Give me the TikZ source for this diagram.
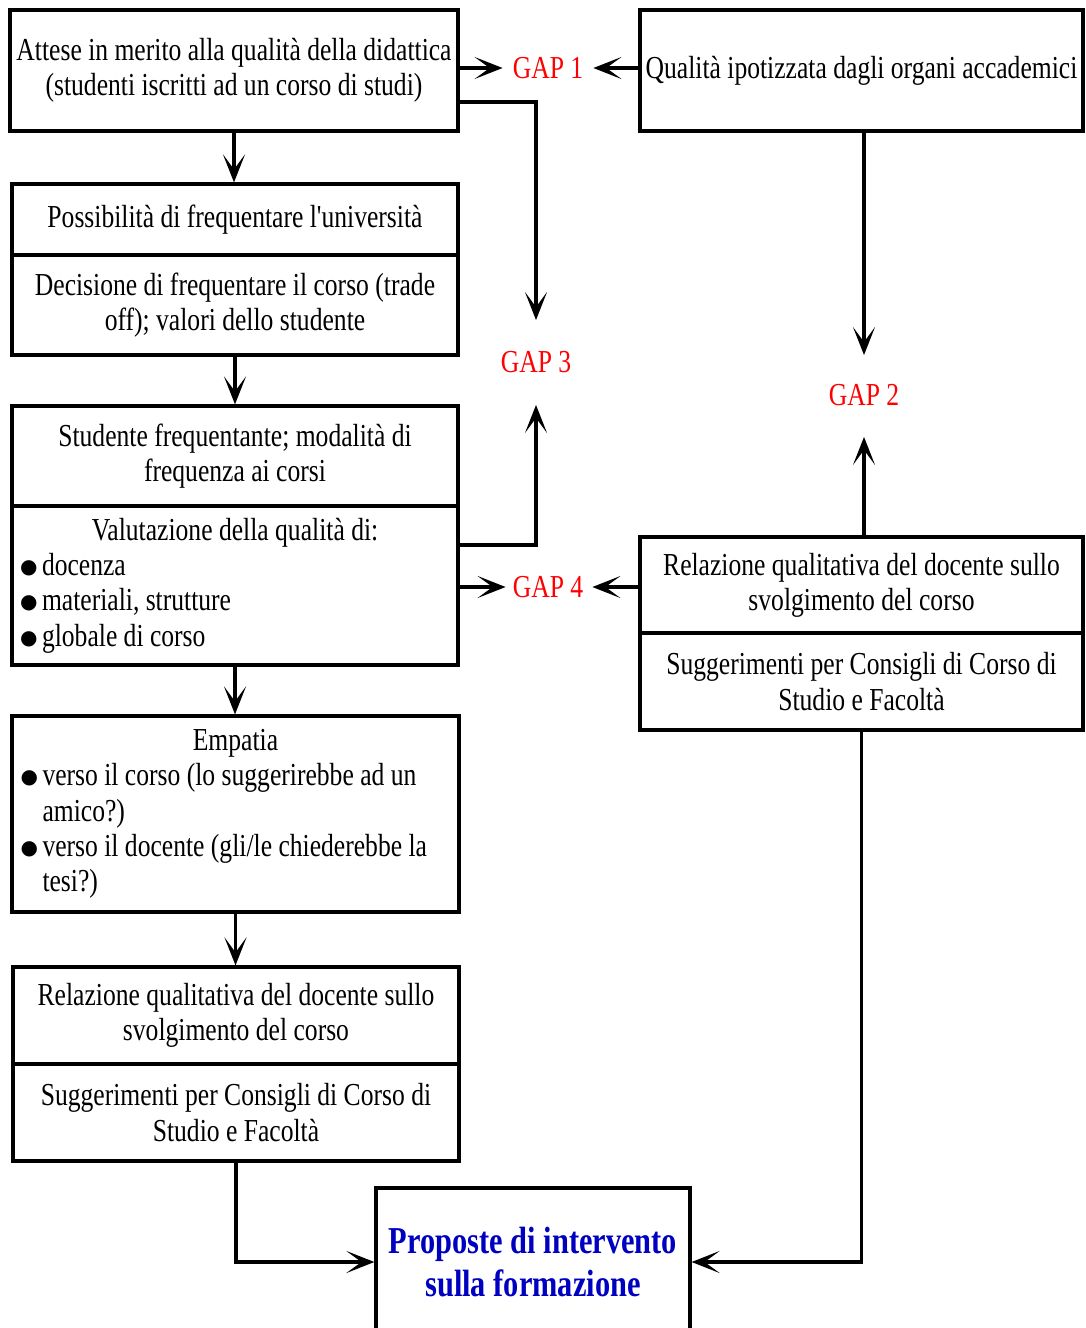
\documentclass[tikz,border=0pt]{standalone}
\usepackage{fontspec}
\setmainfont{Liberation Serif}[FakeStretch=0.8, Ligatures=TeXOff]
\newfontfamily\bulletfont{DejaVu Sans}
\usetikzlibrary{arrows.meta}
\definecolor{gapred}{RGB}{255,0,0}
\definecolor{propblue}{RGB}{0,0,192}
\newcommand{\bul}{\makebox[22pt][l]{\raisebox{2pt}{\bulletfont\fontsize{20}{20}\selectfont ●}}}
\newcommand{\bline}[1]{\makebox[430pt][l]{#1}}
\tikzset{
  box/.style={draw, line width=3.2pt, inner sep=0pt, align=center,
    font=\fontsize{32}{35.3}\selectfont},
  gap/.style={text=gapred, inner sep=0pt, font=\fontsize{32}{35}\selectfont},
  conn/.style={line width=3.2pt, -{Stealth[length=28pt, width=22pt, inset=15pt]}},
}
\begin{document}
\begin{tikzpicture}[x=1pt,y=-1pt]
\useasboundingbox (0,0) rectangle (1085,1328);

% left column
\node[box, minimum width=448pt, minimum height=121pt] (A) at (234,70.5)
  {Attese in merito alla qualità della didattica\\(studenti iscritti ad un corso di studi)};
\node[box, minimum width=446pt, minimum height=71pt] (B1) at (235,219.5)
  {Possibilità di frequentare l'università};
\node[box, minimum width=446pt, minimum height=100pt] (B2) at (235,305)
  {Decisione di frequentare il corso (trade\\off); valori dello studente};
\node[box, minimum width=446pt, minimum height=100pt] (C1) at (235,456)
  {Studente frequentante; modalità di\\frequenza ai corsi};
\node[box, minimum width=446pt, minimum height=159pt] (C2) at (235,585.5)
  {Valutazione della qualità di:\\
   \bline{\bul docenza}\\
   \bline{\bul materiali, strutture}\\
   \bline{\bul globale di corso}};
\node[box, minimum width=447pt, minimum height=196pt] (E) at (235.5,814)
  {Empatia\\
   \bline{\bul verso il corso (lo suggerirebbe ad un}\\
   \bline{\hspace*{22pt}amico?)}\\
   \bline{\bul verso il docente (gli/le chiederebbe la}\\
   \bline{\hspace*{22pt}tesi?)}};
\node[box, minimum width=446pt, minimum height=97pt] (F1) at (236,1015.5)
  {Relazione qualitativa del docente sullo\\svolgimento del corso};
\node[box, minimum width=446pt, minimum height=97pt] (F2) at (236,1112.5)
  {Suggerimenti per Consigli di Corso di\\Studio e Facoltà};

% right column
\node[box, minimum width=443pt, minimum height=121pt] (Q) at (861.5,70.5)
  {Qualità ipotizzata dagli organi accademici};
\node[box, minimum width=443pt, minimum height=96pt] (R1) at (861.5,585)
  {Relazione qualitativa del docente sullo\\svolgimento del corso};
\node[box, minimum width=443pt, minimum height=97pt] (R2) at (861.5,681.5)
  {Suggerimenti per Consigli di Corso di\\Studio e Facoltà};

% final box
\node[box, minimum width=314pt, minimum height=148pt, text=propblue,
  font=\bfseries\fontsize{38}{43}\selectfont] (P) at (533,1262)
  {Proposte di intervento\\sulla formazione};

% gaps
\node[gap] (g1) at (548,68) {GAP 1};
\node[gap] (g3) at (536,362) {GAP 3};
\node[gap] (g2) at (864,395) {GAP 2};
\node[gap] (g4) at (548,587) {GAP 4};

% connectors
\draw[conn] (A.south) -- (A.south |- B1.north);
\draw[conn] (B2.south) -- (C1.north);
\draw[conn] (C2.south) -- (C2.south |- E.north);
\draw[conn] (E.south) -- (E.south |- F1.north);

\draw[conn, shorten >=10pt] (A.east |- g1) -- (g1.west);
\draw[conn, shorten >=10pt] (Q.west |- g1) -- (g1.east);

\draw[conn, shorten >=31pt] ([yshift=-31.5pt]A.east) -| (g3.north);
\draw[conn, shorten >=32pt] ([yshift=40.5pt]C2.east) -| (g3.south);

\draw[conn, shorten >=29pt] (g2 |- Q.south) -- (g2.north);
\draw[conn, shorten >=31pt] (g2 |- R1.north) -- (g2.south);

\draw[conn, shorten >=7pt] (C2.east |- g4) -- (g4.west);
\draw[conn, shorten >=9pt] (R1.west |- g4) -- (g4.east);

\draw[conn] (F2.south) |- (P.west);
\draw[conn] (R2.south) |- (P.east);
\end{tikzpicture}
\end{document}
